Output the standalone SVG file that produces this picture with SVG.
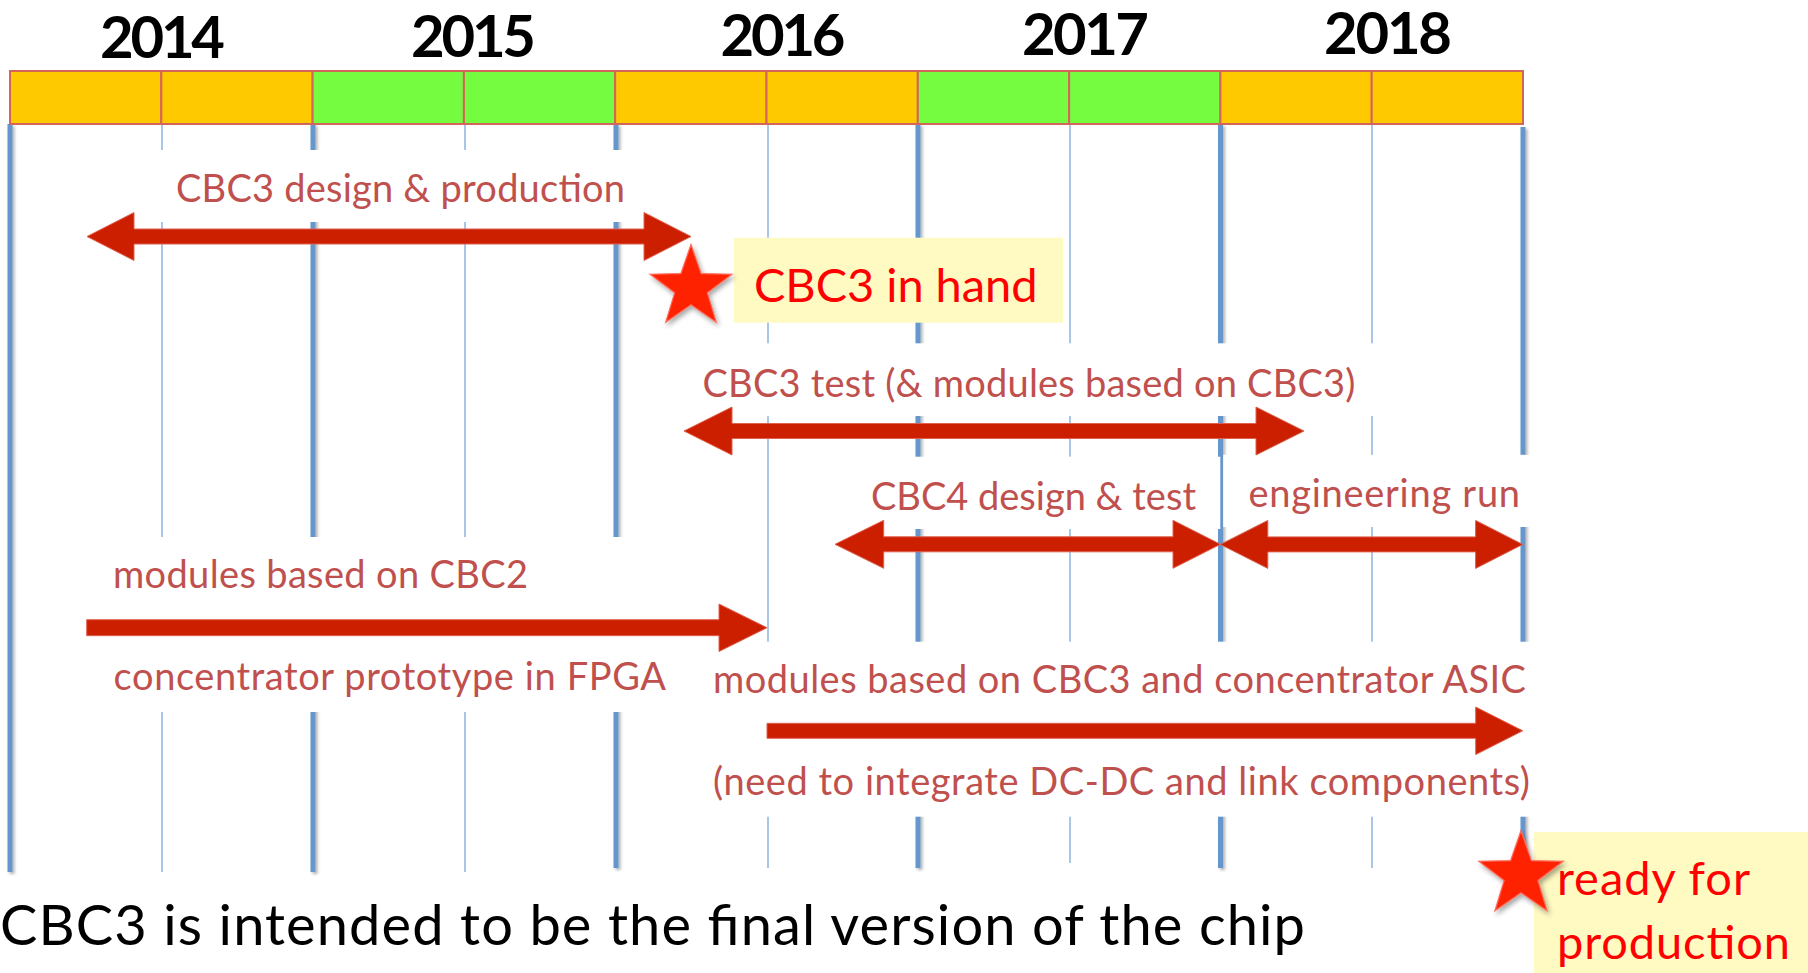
<svg xmlns="http://www.w3.org/2000/svg" width="1808" height="973" viewBox="0 0 1808 973">
<defs>
<style>
.lbl{font-family:Lato,"Liberation Sans",sans-serif;font-size:38px;fill:#C0504D}
.yr{font-family:Lato,"Liberation Sans",sans-serif;font-weight:bold;font-size:58px;fill:#000}
.big{font-family:Lato,"Liberation Sans",sans-serif;font-size:47px;fill:#FF0000}
.note{font-family:Lato,"Liberation Sans",sans-serif;font-size:56px;fill:#000}
.or{fill:#FFC900;stroke:#D4655A;stroke-width:2}
.gr{fill:#75FB40;stroke:#D4655A;stroke-width:2}
.thick{stroke:#6596CC;stroke-width:5}
.thin{stroke:#8DB3E2;stroke-width:1.5}
.wbox{fill:#FFFFFF}
.ybox{fill:#FFFAC2}
.arrow{fill:#CC1F00;stroke:#E0604F;stroke-width:1}
.star{fill:#FF2200;stroke:#FF6A5A;stroke-width:1.2;filter:url(#ssh)}
</style>
<filter id="sh" filterUnits="userSpaceOnUse" x="0" y="0" width="1808" height="973">
<feDropShadow dx="2" dy="2" stdDeviation="1.5" flood-color="#000" flood-opacity="0.3"/>
</filter>
<filter id="ssh" x="-30%" y="-30%" width="160%" height="160%">
<feDropShadow dx="2" dy="3" stdDeviation="2.5" flood-color="#000" flood-opacity="0.35"/>
</filter>
<polygon id="starShape" points="0,-43 10.11,-13.91 40.9,-13.29 16.36,5.31 25.28,34.79 0,17.2 -25.28,34.79 -16.36,5.31 -40.9,-13.29 -10.11,-13.91"/>
</defs>
<rect width="1808" height="973" fill="#FFFFFF"/>

<g id="gridlines">
<g filter="url(#sh)">
<line class="thick" x1="10" y1="124" x2="10" y2="872"/>
<line class="thick" x1="313" y1="124" x2="313" y2="872"/>
<line class="thick" x1="616" y1="124" x2="616" y2="868"/>
<line class="thick" x1="918" y1="124" x2="918" y2="868"/>
<line class="thick" x1="1220.5" y1="124" x2="1220.5" y2="868"/>
<line class="thick" x1="1523" y1="127" x2="1523" y2="868"/>
</g>
<line class="thin" x1="162" y1="124" x2="162" y2="872"/>
<line class="thin" x1="465" y1="124" x2="465" y2="872"/>
<line class="thin" x1="768" y1="124" x2="768" y2="868"/>
<line class="thin" x1="1070" y1="124" x2="1070" y2="863"/>
<line class="thin" x1="1372" y1="124" x2="1372" y2="868"/>
</g>

<g id="timeline-bar">
<rect class="or" x="10" y="71" width="151.3" height="53"/>
<rect class="or" x="161.3" y="71" width="151.3" height="53"/>
<rect class="gr" x="312.6" y="71" width="151.3" height="53"/>
<rect class="gr" x="463.9" y="71" width="151.3" height="53"/>
<rect class="or" x="615.2" y="71" width="151.3" height="53"/>
<rect class="or" x="766.5" y="71" width="151.3" height="53"/>
<rect class="gr" x="917.8" y="71" width="151.3" height="53"/>
<rect class="gr" x="1069.1" y="71" width="151.3" height="53"/>
<rect class="or" x="1220.4" y="71" width="151.3" height="53"/>
<rect class="or" x="1371.7" y="71" width="151.3" height="53"/>
</g>

<g id="years">
<text class="yr" x="100" y="58" textLength="125">2014</text>
<text class="yr" x="411" y="57" textLength="125">2015</text>
<text class="yr" x="720.5" y="55.5" textLength="125">2016</text>
<text class="yr" x="1022" y="54.5" textLength="127">2017</text>
<text class="yr" x="1324" y="53.5" textLength="128">2018</text>
</g>

<g id="label-backgrounds">
<rect class="wbox" x="25" y="150" width="675" height="72"/>
<rect class="wbox" x="690" y="343.3" width="710" height="72.7"/>
<rect class="wbox" x="800" y="456.7" width="420.3" height="72.3"/>
<rect class="wbox" x="1223.2" y="454.8" width="307" height="72.2"/>
<rect class="wbox" x="25" y="537" width="675" height="175"/>
<rect class="wbox" x="705" y="641.7" width="830" height="175"/>
</g>

<g id="connectors">
<polygon class="arrow" points="87,236.5 134,212.5 134,229 644,229 644,212.5 691,236.5 644,260.5 644,244 134,244 134,260.5"/>
<polygon class="arrow" points="684,431 732,407 732,423.5 1256,423.5 1256,407 1304,431 1256,455 1256,438.5 732,438.5 732,455"/>
<polygon class="arrow" points="835,544.3 883.7,520.3 883.7,536.8 1173,536.8 1173,520.3 1220.4,544.3 1173,568.3 1173,551.8 883.7,551.8 883.7,568.3"/>
<polygon class="arrow" points="1220.4,544.4 1267.8,520.4 1267.8,536.9 1475.6,536.9 1475.6,520.4 1522.7,544.4 1475.6,568.4 1475.6,551.9 1267.8,551.9 1267.8,568.4"/>
<polygon class="arrow" points="86.7,619.7 719,619.7 719,604 767,627.7 719,651.5 719,635.7 86.7,635.7"/>
<polygon class="arrow" points="767,723.3 1475.7,723.3 1475.7,707 1522.7,730.8 1475.7,754.6 1475.7,738.3 767,738.3"/>
</g>

<g id="cbc3-design">
<text class="lbl" x="176" y="201.7" textLength="449">CBC3 design &amp; production</text>
</g>

<g id="cbc3-in-hand">
<rect class="ybox" x="734" y="237.7" width="329" height="85"/>
<use href="#starShape" class="star" transform="translate(691,287.5)"/>
<text class="big" x="754" y="302" textLength="283.5">CBC3 in hand</text>
</g>

<g id="cbc3-test">
<text class="lbl" x="702.5" y="396.7" textLength="653">CBC3 test (&amp; modules based on CBC3)</text>
</g>

<g id="cbc4-design">
<text class="lbl" x="871" y="510" textLength="325">CBC4 design &amp; test</text>
</g>

<g id="engineering-run">
<text class="lbl" x="1248.5" y="507" textLength="271.5">engineering run</text>
</g>

<g id="modules-cbc2">
<text class="lbl" x="113" y="588" textLength="415">modules based on CBC2</text>
<text class="lbl" x="113.6" y="690" textLength="552.4">concentrator prototype in FPGA</text>
</g>

<g id="modules-cbc3">
<text class="lbl" x="713" y="693" textLength="813">modules based on CBC3 and concentrator ASIC</text>
<text class="lbl" x="713" y="795" textLength="817">(need to integrate DC-DC and link components)</text>
</g>

<g id="ready-for-production">
<rect class="ybox" x="1534" y="832" width="274" height="141"/>
<use href="#starShape" class="star" transform="translate(1521,875) scale(1.03)"/>
<text class="big" x="1557" y="895" textLength="193">ready for</text>
<text class="big" x="1557" y="959" textLength="233">production</text>
</g>

<g id="footnote">
<text class="note" x="0" y="945" textLength="1305">CBC3 is intended to be the final version of the chip</text>
</g>
</svg>
